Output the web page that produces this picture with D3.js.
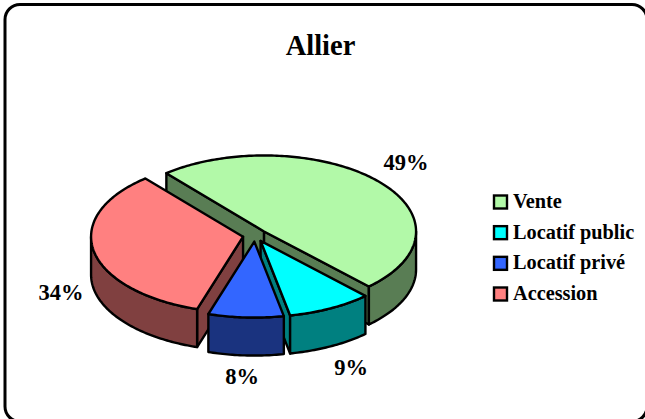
<!DOCTYPE html>
<html>
<head>
<meta charset="utf-8">
<title>Allier</title>
<script src="https://d3js.org/d3.v7.min.js"></script>
<style>
	html, body { margin: 0; padding: 0; background: #fff; overflow: hidden; }
	text { font-family: "Liberation Serif", serif; font-weight: bold; fill: #000; }
</style>
</head>
<body>
<script>
	var categories = ['Vente', 'Locatif public', 'Locatif privé', 'Accession'];
	var values = [49, 9, 8, 34];
	var topColors = ['#b2f9a8', '#00ffff', '#3366ff', '#ff8080'];
	var sideColors = ['#597d54', '#008080', '#1a337f', '#804040'];

	var width = 645, height = 419;
	var cx = 255, cy = 235.5, rx = 152, ry = 76, depth = 38, explode = 0.08;
	var startAngle = -40 * Math.PI / 180;

	var svg = d3.select('body').append('svg')
		.attr('width', width)
		.attr('height', height);

	// frame, runs off the right and bottom of the picture
	svg.append('rect')
		.attr('x', 5).attr('y', 4.5)
		.attr('width', 642).attr('height', 417)
		.attr('rx', 15)
		.style('fill', '#fff')
		.style('stroke', '#000')
		.style('stroke-width', 3);

	svg.append('text')
		.attr('x', 320.5).attr('y', 55)
		.attr('text-anchor', 'middle')
		.style('font-size', '28.5px')
		.text('Allier');

	var pie = d3.pie().sort(null)
		.startAngle(startAngle)
		.endAngle(startAngle + 2 * Math.PI)(values);

	var line = d3.line();

	// point on the tilted disc, angle clockwise from top
	function pt(a, r, ox, oy, dz) {
		return [cx + ox + rx * r * Math.sin(a), cy + oy - ry * r * Math.cos(a) + dz];
	}

	function arcPoints(a0, a1, ox, oy, dz) {
		var n = Math.max(2, Math.ceil(Math.abs(a1 - a0) * 60));
		return d3.range(n + 1).map(function(i) {
			return pt(a0 + (a1 - a0) * i / n, 1, ox, oy, dz);
		});
	}

	function face(g, pts, color) {
		g.append('path')
			.attr('d', line(pts) + 'Z')
			.style('fill', color)
			.style('stroke', '#000')
			.style('stroke-width', 2.4)
			.style('stroke-linejoin', 'round');
	}

	// back to front so the nearer slices cover the others
	[0, 3, 1, 2].forEach(function(i) {
		var d = pie[i];
		var mid = (d.startAngle + d.endAngle) / 2;
		var ox = explode * rx * Math.sin(mid);
		var oy = -explode * ry * Math.cos(mid);
		var g = svg.append('g').attr('class', 'slice');
		var c = [cx + ox, cy + oy];
		var c2 = [c[0], c[1] + depth];
		var p0 = pt(d.startAngle, 1, ox, oy, 0);
		var p1 = pt(d.endAngle, 1, ox, oy, 0);

		// cut faces that turn towards the viewer
		if (i === 0) face(g, [c, p0, [p0[0], p0[1] + depth], c2], sideColors[i]);
		if (i === 0 || i === 1) face(g, [c, p1, [p1[0], p1[1] + depth], c2], sideColors[i]);
		if (i === 3) face(g, [c, p0, [p0[0], p0[1] + depth], c2], sideColors[i]);

		// outer wall, front half only
		var a0 = Math.max(d.startAngle, Math.PI / 2);
		var a1 = Math.min(d.endAngle, 3 * Math.PI / 2);
		if (a1 > a0) {
			face(g, arcPoints(a0, a1, ox, oy, 0).concat(arcPoints(a1, a0, ox, oy, depth)), sideColors[i]);
		}

		// top
		face(g, [c].concat(arcPoints(d.startAngle, d.endAngle, ox, oy, 0)), topColors[i]);
	});

	// value labels
	var labelPos = [[406, 170], [351, 375], [242, 384], [61, 300]];
	values.forEach(function(v, i) {
		svg.append('text')
			.attr('x', labelPos[i][0]).attr('y', labelPos[i][1])
			.attr('text-anchor', 'middle')
			.style('font-size', '22.5px')
			.text(v + '%');
	});

	// legend
	var legendY = d3.scalePoint().domain(categories).range([201.5, 293.5]);
	var legend = svg.selectAll('.legend').data(categories).enter().append('g')
		.attr('class', 'legend')
		.attr('transform', function(d) { return 'translate(494,' + legendY(d) + ')'; });
	legend.append('rect')
		.attr('x', 0).attr('y', -6)
		.attr('width', 13).attr('height', 13)
		.style('fill', function(d, i) { return topColors[i]; })
		.style('stroke', '#000')
		.style('stroke-width', 2.4);
	legend.append('text')
		.attr('x', 19).attr('y', 6.5)
		.style('font-size', '20.3px')
		.text(function(d) { return d; });
</script>
</body>
</html>
